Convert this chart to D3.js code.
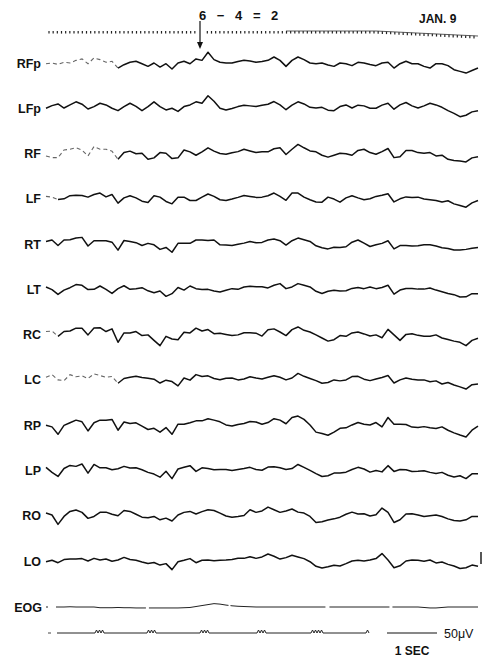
<!DOCTYPE html>
<html>
<head>
<meta charset="utf-8">
<script src="https://cdn.jsdelivr.net/npm/d3@7"></script>
<style>
    html, body { margin: 0; padding: 0; background: #fff; }
    svg { display: block; }
    .lbl { font-family: "Liberation Sans", Arial, sans-serif; font-weight: bold; font-size: 12.5px; fill: #111; }
</style>
</head>
<body>
<svg id="chart"></svg>
<script>
const width = 494, height = 659;

// one sample every 0.12 s, 73 samples per channel (microvolts, up = positive)
const sampleInterval = 0.12;
const channels = ["RFp", "LFp", "RF", "LF", "RT", "LT", "RC", "LC", "RP", "LP", "RO", "LO"];

const rfp = [-3,0,-6,3,0,11,17,-3,21,14, 3,7,-21,-7,3,7,-3,-14,0,-17, -3,-25,0,7,-3,17,11,45,14,3, 0,0,6,11,8,3,6,11,25,11, -14,11,25,14,0,-3,0,-8,-14,0, -3,-11,3,0,-6,-11,0,3,-21,-3, 7,-3,-3,-14,-21,-3,-3,-11,-28,-35, -42,-31,-21];
const lfp = [0,11,18,1,14,27,17,-3,7,21, 14,0,-10,7,21,8,-10,7,27,7, -7,0,-13,7,14,27,21,52,29,0, -7,-1,7,13,10,7,13,17,28,14, -6,13,27,18,4,1,4,-8,-10,7, 14,1,13,10,0,0,13,21,-4,14, 24,10,1,10,21,14,4,-10,-21,-35, -29,-15,-10];
const rf  = [-10,-17,-17,15,18,24,14,-10,29,18, 18,10,-24,4,10,-1,1,-24,-18,4, 1,-21,-18,15,7,-7,7,24,10,0, -3,3,8,18,11,4,7,7,20,24, -4,18,38,24,11,7,-7,-15,-7,1, -1,-7,13,18,4,-3,8,21,-17,-13, 13,13,4,1,4,-10,-7,-24,-29,-31, -35,-18,-13];
const lf  = [10,7,-3,0,13,15,14,7,18,24, 8,18,-18,4,13,4,-10,-15,13,7, -11,-21,7,7,-7,-7,7,20,10,-4, -7,-1,6,14,10,6,7,13,24,10, -6,24,24,7,-4,-13,-14,7,-1,-14, 4,13,4,-4,0,10,15,21,-13,0, 8,6,7,-1,-4,-7,-13,-8,-21,-28, -35,-17,-7];
const rt  = [11,17,-6,17,18,25,28,-8,14,14, 14,8,-25,15,11,6,-6,3,-3,-22, -14,-34,3,4,3,17,17,15,17,-3, -4,-6,-1,4,11,6,7,17,21,14, -4,14,25,18,11,-7,-15,-20,-13,-14, -11,8,17,4,-10,-3,3,14,-20,-6, -6,-8,-7,-3,-3,-8,-15,-18,-25,-25, -22,-17,-14];
const lt  = [10,-1,-21,-3,7,20,17,-1,0,14, 0,-17,3,15,0,3,7,-6,-14,-7, -29,-18,8,-3,14,3,-1,0,-7,-11, -4,3,0,10,13,11,11,6,17,24, 3,10,24,17,10,-8,-17,-8,-4,-7, -6,4,8,3,10,3,8,17,-20,-3, 4,4,1,1,6,-3,-10,-17,-22,-32, -31,-18,-18];
const rc  = [13,15,-7,13,15,27,27,-1,28,29, 13,24,-32,7,7,13,-4,-1,-24,-46, -7,-18,-21,10,7,27,15,21,4,6, 1,-4,-1,8,8,6,-6,20,24,11, -4,21,32,18,11,-1,-14,-27,-21,-4, -7,7,11,3,-6,-1,-13,22,-1,-24, 1,4,-3,-7,-7,-1,-14,-20,-27,-32, -46,-24,-15];
const lc  = [11,22,0,-3,22,13,17,6,25,18, 11,14,-14,6,11,15,10,7,3,-13, -1,-7,-25,8,-1,22,14,17,6,1, 7,8,0,4,13,8,4,11,17,11, 0,8,27,15,6,-3,-14,-11,0,-4, 0,14,15,3,-3,4,10,18,-13,0, 8,3,0,0,-8,-4,-17,-11,-21,-29, -38,-20,-17];
const rp  = [0,-7,-38,-1,10,21,14,-24,10,21, 21,24,-21,13,7,10,-4,-18,-13,-29, -10,-38,4,4,10,18,18,27,21,14, 1,-3,3,7,15,13,4,11,27,21, 6,32,38,24,1,-29,-35,-42,-29,-13, -11,1,11,4,1,11,-7,32,4,4, 3,-8,-10,-6,-11,-14,-7,-21,-32,-41, -49,-21,-4];
const lp  = [13,-8,-25,8,21,17,27,-11,25,11, 11,3,7,17,10,11,3,-8,-15,-28, -3,-34,6,13,20,-4,11,8,3,4, 4,0,4,8,13,4,1,14,15,11, 4,8,25,13,0,-13,-25,-22,-11,-11, -7,4,13,6,-7,0,-6,20,-4,4, 3,-4,-3,-1,-8,-13,-8,-20,-27,-22, -34,-14,-14];
const ro  = [11,3,-36,-3,18,24,14,-11,-3,14, 15,6,0,22,18,6,-6,-8,-3,-17, -10,-22,3,14,18,7,17,25,22,11, -1,-6,-3,1,25,14,20,36,25,14, 20,28,15,11,-3,-28,-25,-18,-13,-6, 6,15,7,8,-1,4,32,14,-28,-17, 7,8,3,-3,0,3,-3,-13,-20,-22, -17,-3,-3];
const lo  = [-3,3,-7,6,8,8,10,0,11,4, 8,-1,4,15,6,3,-4,-10,-6,-17, -11,-36,-3,3,10,-7,3,4,1,3, 4,6,11,11,18,11,17,29,20,8, 14,24,17,10,-3,-22,-29,-24,-18,-21, -11,0,3,0,4,10,31,4,-28,-20, 0,4,3,-1,4,-8,-4,-14,-21,-31, -28,-17,-22];
const traces = [rfp, lfp, rf, lf, rt, lt, rc, lc, rp, lp, ro, lo];

// seconds at the start of each channel where the pen trace is faint
const fadedUntil = [1.44, 0, 1.44, 0.24, 0, 0, 0.24, 1.44, 0, 0, 0, 0];

const eog = [0,0,0,0,1,0,0,0,0,-3, -3,-3,-2,-3,-3,-4,-4,-4,-4,-4, -4,-4,-4,-3,-2,2,6,10,14,12, 8,5,3,2,1,0,0,0,0,0, 0,0,0,0,0,0,0,0,0,0, 0,0,0,0,0,0,0,0,0,0, 0,0,0,-2,-4,-4,-2,0,0,0, 0,0,0];

// stimulus marker channel: burst onsets (s) and number of flashes per burst
const stimOnsets = [0.98, 2.02, 3.08, 4.22, 5.3, 6.4];
const stimBumps = [3, 3, 3, 3, 4, 1];

const titleText = "6 − 4 = 2";
const dateText = "JAN. 9";

const svg = d3.select("#chart").attr("width", width).attr("height", height);

const x = d3.scaleLinear().domain([0, 8.64]).range([46, 478]);   // 50 px per second
const row = d3.scalePoint().domain(channels).range([63, 561]);
const amp = d3.scaleLinear().domain([-50, 50]).range([12, -12]); // 50 uV ~ 12 px

const line = d3.line().x(d => x(d[0])).y(d => amp(d[1]));

// ---- EEG channels
channels.forEach((name, k) => {
    const g = svg.append("g").attr("transform", `translate(0,${row(name)})`);
    const pts = traces[k].map((v, i) => [i * sampleInterval, v]);
    const cut = Math.round(fadedUntil[k] / sampleInterval);

    if (cut > 0) {
        g.append("path")
            .attr("d", line(pts.slice(0, cut + 1)))
            .attr("fill", "none")
            .attr("stroke", "#666")
            .attr("stroke-width", 1.1)
            .attr("stroke-dasharray", "4 3");
    }
    g.append("path")
        .attr("d", line(pts.slice(cut)))
        .attr("fill", "none")
        .attr("stroke", "#111")
        .attr("stroke-width", 1.5)
        .attr("stroke-linejoin", "round");

    g.append("text")
        .attr("class", "lbl")
        .attr("x", 41)
        .attr("y", 4.5)
        .attr("text-anchor", "end")
        .text(name);
});

// 50 uV calibration bar at the end of LO
svg.append("line")
    .attr("x1", 481).attr("x2", 481)
    .attr("y1", row("LO") + amp(37)).attr("y2", row("LO") + amp(-13))
    .attr("stroke", "#111").attr("stroke-width", 1.4);

// ---- time marker ticks along the top
const drift = d3.scaleLinear().domain([0, 6.6, 8.64]).range([32, 32, 37]).clamp(true);
const tickTimes = d3.range(0.06, 8.64, 1 / 12).filter(t => x(t) < 197 || x(t) > 207);

svg.append("g")
    .selectAll("line")
    .data(tickTimes)
    .join("line")
    .attr("x1", d => x(d)).attr("x2", d => x(d))
    .attr("y1", d => drift(d) - 1).attr("y2", d => drift(d) + 1.6)
    .attr("stroke", "#222").attr("stroke-width", 1.2);

svg.append("path")
    .attr("d", d3.line().x(d => x(d)).y(d => drift(d) - 1)([4.8, 6.6, 8.64]))
    .attr("fill", "none").attr("stroke", "#333").attr("stroke-width", 0.8);

// arrow at the stimulus onset
svg.append("line")
    .attr("x1", 200).attr("x2", 200).attr("y1", 21).attr("y2", 44)
    .attr("stroke", "#111").attr("stroke-width", 1.2);
svg.append("path")
    .attr("d", "M197,42L203,42L200,49Z")
    .attr("fill", "#111");

svg.append("text")
    .attr("class", "lbl")
    .attr("x", 199).attr("y", 20)
    .style("font-size", "13px")
    .style("word-spacing", "7px")
    .attr("xml:space", "preserve")
    .text(titleText);

svg.append("text")
    .attr("class", "lbl")
    .attr("x", 419).attr("y", 23)
    .style("font-size", "12px")
    .text(dateText);

// ---- EOG
const eogY = 607;
svg.append("path")
    .attr("transform", `translate(0,${eogY})`)
    .attr("d", line(eog.map((v, i) => [i * sampleInterval, v])))
    .attr("fill", "none")
    .attr("stroke", "#222")
    .attr("stroke-width", 1)
    .attr("stroke-dasharray", "2 8 90 3 80 2 95 4 60 3 120");

svg.append("text")
    .attr("class", "lbl")
    .attr("x", 42).attr("y", eogY + 5)
    .attr("text-anchor", "end")
    .text("EOG");

// ---- stimulus marker line
const stimY = 633;
const stimPts = [[0.22, 0]];
stimOnsets.forEach((t0, k) => {
    d3.range(stimBumps[k]).forEach(j => {
        stimPts.push([t0 + j * 0.06, 0]);
        stimPts.push([t0 + j * 0.06 + 0.03, 1]);
    });
    stimPts.push([t0 + stimBumps[k] * 0.06, 0]);
});
const stimLine = d3.line().x(d => x(d[0])).y(d => stimY - d[1] * 3);

svg.append("path")
    .attr("d", stimLine(stimPts))
    .attr("fill", "none")
    .attr("stroke", "#222")
    .attr("stroke-width", 1);
svg.append("line")
    .attr("x1", x(0.04)).attr("x2", x(0.1))
    .attr("y1", stimY).attr("y2", stimY)
    .attr("stroke", "#444").attr("stroke-width", 1);

// 1 second calibration
const calStart = 6.82;
svg.append("line")
    .attr("x1", x(calStart)).attr("x2", x(calStart + 1))
    .attr("y1", stimY).attr("y2", stimY)
    .attr("stroke", "#111").attr("stroke-width", 1.2);

svg.append("text")
    .attr("x", 444).attr("y", 638)
    .style("font-family", "'Liberation Sans', Arial, sans-serif")
    .style("font-size", "12.5px")
    .attr("fill", "#111")
    .text("50μV");

svg.append("text")
    .attr("class", "lbl")
    .attr("x", x(calStart + 0.5)).attr("y", 655)
    .attr("text-anchor", "middle")
    .style("font-size", "12px")
    .text("1 SEC");
</script>
</body>
</html>
